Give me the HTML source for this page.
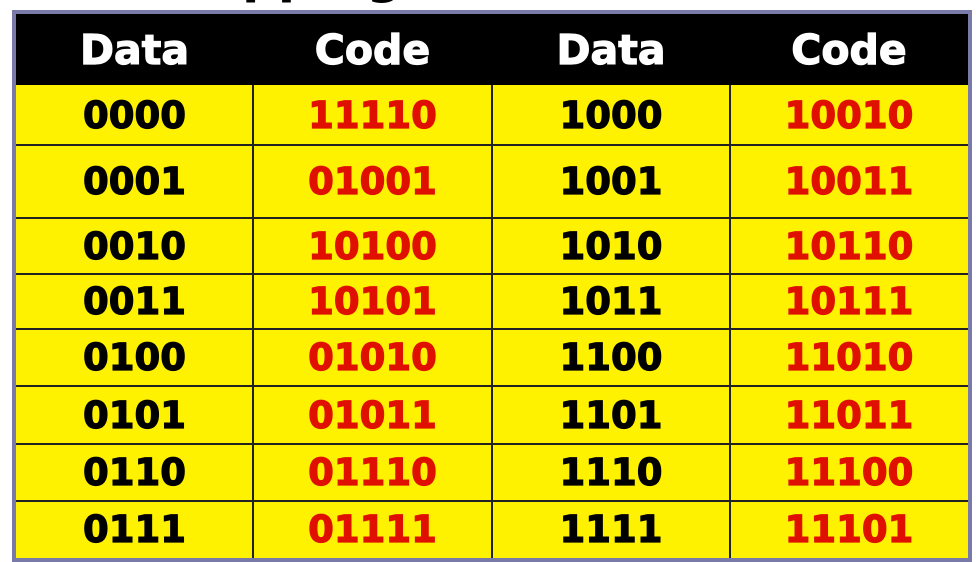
<!DOCTYPE html>
<html><head><meta charset="utf-8"><style>
html,body{margin:0;padding:0;background:#fff;width:976px;height:561px;overflow:hidden;}
#title{position:absolute;left:0;top:-53px;width:976px;text-align:center;font:bold 50px "DejaVu Sans","Liberation Sans",sans-serif;color:#000;line-height:56px;white-space:nowrap;}
#frame{position:absolute;left:12px;top:10px;width:952px;height:544px;border:4px solid #7a7aa8;background:#fff200;}
.cell{position:absolute;box-sizing:border-box;display:flex;align-items:center;justify-content:center;font:bold 37px "DejaVu Sans","Liberation Sans",sans-serif;-webkit-text-stroke:1.2px currentColor;}
.hd{background:#000;color:#fff;font-size:41px;}
.d{color:#000;}
.c{color:#e01000;}
.vl{position:absolute;width:2px;background:#222;}
.hl{position:absolute;height:2px;background:#222;}
</style></head><body>
<div id="title">Mapping Codes (4B/5B)</div>
<div id="frame"></div>
<script>
const dataA=["0000","0001","0010","0011","0100","0101","0110","0111"];
const codeA=["11110","01001","10100","10101","01010","01011","01110","01111"];
const dataB=["1000","1001","1010","1011","1100","1101","1110","1111"];
const codeB=["10010","10011","10110","10111","11010","11011","11100","11101"];
const headers=["Data","Code","Data","Code"];
const colX=[0,237,476,714,952];
const rowY=[0,71,131,204,260,315,372,430,487,544];
const f=document.getElementById('frame');
function cell(x,y,w,h,txt,cls){const e=document.createElement('div');e.className='cell '+cls;e.style.left=x+'px';e.style.top=y+'px';e.style.width=w+'px';e.style.height=h+'px';e.textContent=txt;f.appendChild(e);return e;}
headers.forEach((h,i)=>{const e=cell(colX[i],0,colX[i+1]-colX[i],rowY[1],h,'hd');

});
const cols=[[dataA,'d','data'],[codeA,'c','code'],[dataB,'d','data'],[codeB,'c','code']];
cols.forEach((c,ci)=>{c[0].forEach((v,ri)=>{const e=cell(colX[ci],rowY[ri+1],colX[ci+1]-colX[ci],rowY[ri+2]-rowY[ri+1],v,c[1]);

});});
for(let i=1;i<4;i++){const l=document.createElement('div');l.className='vl';l.style.left=(colX[i]-1)+'px';l.style.top=rowY[1]+'px';l.style.height=(544-rowY[1])+'px';


f.appendChild(l);}
for(let i=2;i<9;i++){const l=document.createElement('div');l.className='hl';l.style.left='0px';l.style.width='952px';l.style.top=(rowY[i]-1)+'px';


f.appendChild(l);}
</script>
</body></html>
